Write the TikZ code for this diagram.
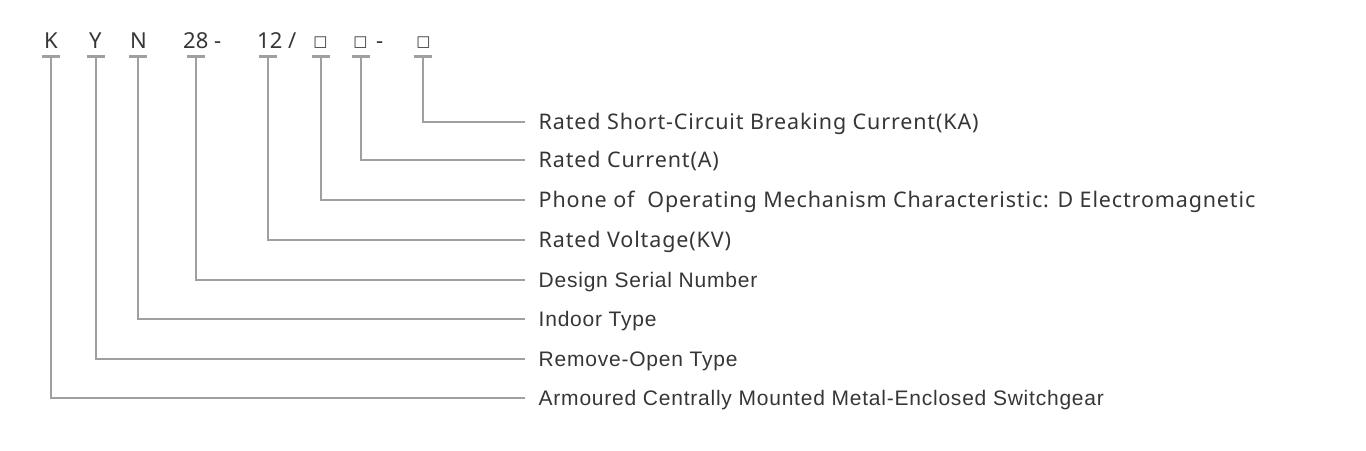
\documentclass[tikz,border=0pt]{standalone}
\usepackage{fontspec}
\setmainfont{Noto Sans}[LetterSpace=4]
\newfontfamily\grofont{Liberation Sans}[LetterSpace=3.7]
\newfontfamily\codefont{Noto Sans}
\newfontfamily\symfont{DejaVu Sans}
\definecolor{txt}{HTML}{363636}
\definecolor{ln}{HTML}{A0A0A0}
\begin{document}
\begin{tikzpicture}[x=1pt,y=-1pt,
  code/.style={font=\codefont\fontsize{22}{22}\selectfont, text=txt, inner sep=0pt, anchor=base west},
  sq/.style={font=\symfont\fontsize{15}{15}\selectfont, text=txt, inner sep=0pt, anchor=base},
  lab/.style={font=\fontsize{21.5}{21.5}\selectfont, text=txt, inner xsep=13.5pt, inner ysep=0pt, anchor=base west},
  labg/.style={lab, font=\grofont\fontsize{21}{21}\selectfont},
  bar/.style={draw=ln, line width=3pt},
  conn/.style={draw=ln, line width=1.5pt}]
\useasboundingbox (0,0) rectangle (1366,450);
% code row
\node[code] (ck) at (44,48) {K};
\node[code] (cy) at (89,48) {Y};
\node[code] (cn) at (130,48) {N};
\node[code] (c28) at (183,48) {28 -};
\node[code] (c12) at (257,48) {12 /};
\node[sq] (s1) at (320.5,46) {□};
\node[sq] (s2) at (360.5,46) {□};
\node[code] (cd) at (376,48) {-};
\node[sq] (s3) at (423.5,46) {□};
% bars
\foreach \n/\x in {bk/51,by/96,bn/138,b28/196,b12/268,bs1/321,bs2/361,bs3/423}{
  \coordinate (\n) at (\x,56);
  \draw[bar] ([xshift=-9pt]\n) -- ([xshift=9pt]\n);
}
% labels
\node[lab] (l1) at (525,129.5) {Rated Short-Circuit Breaking Current(KA)};
\node[lab] (l2) at (525,167.5) {Rated Current(A)};
\node[lab] (l3) at (525,207.5) {Phone of\ \ Operating Mechanism Characteristic: D Electromagnetic};
\node[lab] (l4) at (525,247.5) {Rated Voltage(KV)};
\node[labg] (l5) at (525,287.5) {Design Serial Number};
\node[labg] (l6) at (525,326.5) {Indoor Type};
\node[labg] (l7) at (525,366.5) {Remove-Open Type};
\node[labg] (l8) at (525,405.5) {Armoured Centrally Mounted Metal-Enclosed Switchgear};
% connectors
\draw[conn] (bs3) |- ([yshift=7.5pt]l1.base west);
\draw[conn] (bs2) |- ([yshift=7.5pt]l2.base west);
\draw[conn] (bs1) |- ([yshift=7.5pt]l3.base west);
\draw[conn] (b12) |- ([yshift=7.5pt]l4.base west);
\draw[conn] (b28) |- ([yshift=7.5pt]l5.base west);
\draw[conn] (bn) |- ([yshift=7.5pt]l6.base west);
\draw[conn] (by) |- ([yshift=7.5pt]l7.base west);
\draw[conn] (bk) |- ([yshift=7.5pt]l8.base west);
\end{tikzpicture}
\end{document}
